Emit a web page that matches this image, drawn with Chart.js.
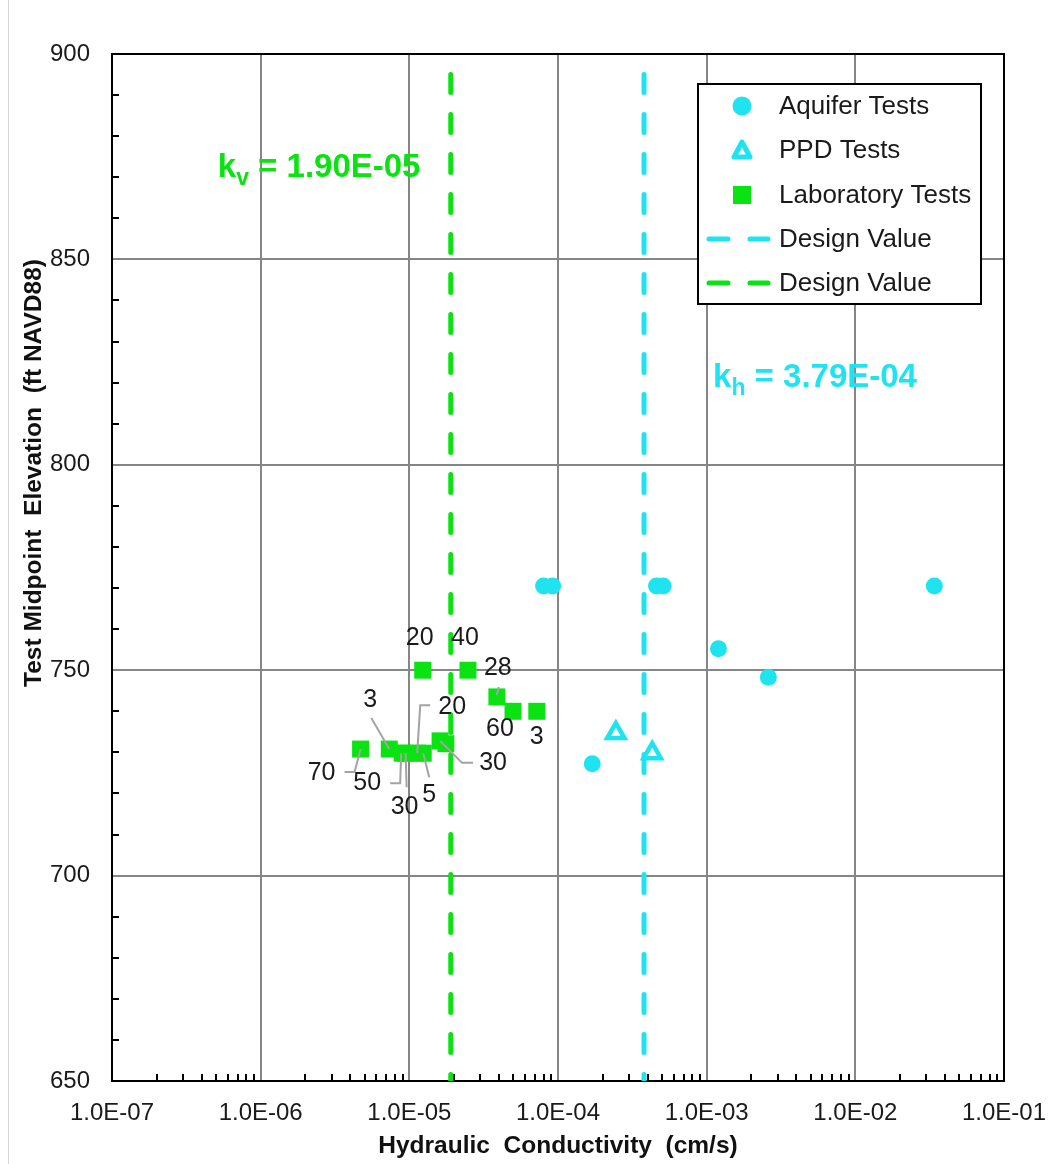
<!DOCTYPE html>
<html>
<head>
<meta charset="utf-8">
<script src="https://cdn.jsdelivr.net/npm/chart.js@4.4.1/dist/chart.umd.min.js"></script>
<style>
  html, body { margin:0; padding:0; background:#fff; }
</style>
</head>
<body>
<canvas id="kChart" width="1050" height="1164"></canvas>
<script>
// ---- data ----
const aquiferK    = [8.0e-5, 9.2e-5, 4.6e-4, 5.1e-4, 3.4e-2, 1.2e-3, 2.6e-3, 1.7e-4];
const aquiferElev = [770.5, 770.5, 770.5, 770.5, 770.5, 755.2, 748.3, 727.2];

const ppdK    = [2.45e-4, 4.3e-4];
const ppdElev = [734.7, 729.8];

const labK    = [1.23e-5, 2.48e-5, 3.88e-5, 4.98e-5, 7.2e-5, 4.7e-6, 7.33e-6, 8.95e-6, 9.44e-6, 1.13e-5, 1.24e-5, 1.61e-5, 1.76e-5];
const labElev = [750, 750, 743.5, 740, 740, 730.8, 730.8, 729.8, 729.8, 729.8, 729.8, 732.8, 732.1];
const labNotes = ['20', '40', '28', '60', '3', '70', '3', '50', '30', '20', '5', '30', ''];

const khDesign = 3.79e-4;
const kvDesign = 1.90e-5;
const designElev = [895, 650];

const xTickValues = [1e-7, 1e-6, 1e-5, 1e-4, 1e-3, 1e-2, 1e-1];
const xTickLabels = ['1.0E-07', '1.0E-06', '1.0E-05', '1.0E-04', '1.0E-03', '1.0E-02', '1.0E-01'];
const yTickValues = [650, 700, 750, 800, 850, 900];

// label placement for the lab notes: [textDx, textDy, leader points...] in px from the marker
const noteLayout = [
  [-3, -32, []],
  [-3, -32, []],
  [1, -29, [[2, -10], [0, -2]]],
  [-13, 18, []],
  [0, 26, []],
  [-39, 24, [[0, 0], [-6, 23], [-16, 23]]],
  [-19, -49, [[-18, -31], [0, 0]]],
  [-35, 30, [[-12, 30], [-2, 30], [-1, 0]]],
  [-1, 54, [[0, 0], [1, 34]]],
  [35, -46, [[13, -48], [3, -48], [0, 0]]],
  [6, 42, [[0, 0], [6, 24]]],
  [53, 22, [[0, 0], [22, 22], [33, 22]]],
  [0, 0, []]
];

const CYAN = '#1fe4f0';
const GREEN = '#0ae212';
const FONT = "'Liberation Sans', Arial, sans-serif";

function sci(v) {
  const [m, e] = v.toExponential(2).split('e');
  const n = Math.abs(parseInt(e, 10));
  return m + 'E' + (e[0] === '-' ? '-' : '+') + String(n).padStart(2, '0');
}

const pts = (xs, ys) => xs.map((v, i) => ({ x: v, y: ys[i] }));

// minor tick positions (2..9 of each decade, every 10 ft)
const xMinor = [];
xTickValues.slice(0, -1).forEach(d => { for (let m = 2; m <= 9; m++) xMinor.push(d * m); });
const yMinor = [];
for (let v = 650; v < 900; v += 10) if (v % 50) yMinor.push(v);

const overlay = {
  id: 'overlay',
  beforeDatasetsDraw(chart) {
    const { ctx, chartArea: a, scales: { x, y } } = chart;
    ctx.save();
    ctx.strokeStyle = '#000';
    ctx.lineWidth = 2;
    ctx.beginPath();
    xMinor.forEach(v => {
      const px = Math.round(x.getPixelForValue(v));
      ctx.moveTo(px, a.bottom); ctx.lineTo(px, a.bottom - 7);
    });
    yMinor.forEach(v => {
      const py = Math.round(y.getPixelForValue(v));
      ctx.moveTo(a.left, py); ctx.lineTo(a.left + 7, py);
    });
    ctx.stroke();
    ctx.strokeRect(a.left, a.top, a.right - a.left, a.bottom - a.top);
    // faint outer frame line on the left
    ctx.strokeStyle = '#d9d9d9';
    ctx.lineWidth = 1;
    ctx.beginPath(); ctx.moveTo(8.5, 0); ctx.lineTo(8.5, chart.height); ctx.stroke();
    ctx.restore();
  },
  afterDatasetsDraw(chart) {
    const { ctx, scales: { x, y } } = chart;
    ctx.save();

    // lab notes with leaders
    ctx.strokeStyle = '#a3a3a3';
    ctx.lineWidth = 2;
    ctx.fillStyle = '#1a1a1a';
    ctx.font = '25px ' + FONT;
    ctx.textAlign = 'center';
    ctx.textBaseline = 'middle';
    labK.forEach((k, i) => {
      const px = x.getPixelForValue(k), py = y.getPixelForValue(labElev[i]);
      const [dx, dy, lead] = noteLayout[i];
      if (lead.length) {
        ctx.beginPath();
        lead.forEach(([lx, ly], j) => j ? ctx.lineTo(px + lx, py + ly) : ctx.moveTo(px + lx, py + ly));
        ctx.stroke();
      }
      if (labNotes[i]) ctx.fillText(labNotes[i], px + dx, py + dy);
    });

    // design value labels
    const kLabel = (sub, val, color, px, py) => {
      ctx.fillStyle = color;
      ctx.textAlign = 'left';
      ctx.textBaseline = 'alphabetic';
      ctx.font = 'bold 33px ' + FONT;
      ctx.fillText('k', px, py);
      let cx = px + ctx.measureText('k').width;
      ctx.font = 'bold 23px ' + FONT;
      ctx.fillText(sub, cx, py + 8);
      cx += ctx.measureText(sub).width;
      ctx.font = 'bold 33px ' + FONT;
      ctx.fillText(' = ' + sci(val), cx, py);
    };
    kLabel('v', kvDesign, GREEN, x.getPixelForValue(kvDesign) - 233, y.getPixelForValue(870));
    kLabel('h', khDesign, CYAN, x.getPixelForValue(khDesign) + 69, y.getPixelForValue(819));

    // legend
    const L = { left: 698, top: 84, right: 981, bottom: 304 };
    ctx.fillStyle = '#fff';
    ctx.fillRect(L.left, L.top, L.right - L.left, L.bottom - L.top);
    ctx.strokeStyle = '#000';
    ctx.lineWidth = 2;
    ctx.strokeRect(L.left, L.top, L.right - L.left, L.bottom - L.top);
    const rows = [106, 150, 195, 239, 283];
    const mx = 742;
    chart.data.datasets.forEach((ds, i) => {
      const ry = rows[i];
      ctx.fillStyle = ds.borderColor;
      ctx.strokeStyle = ds.borderColor;
      if (ds.pointStyle === 'circle') {
        ctx.beginPath(); ctx.arc(mx, ry, 9.5, 0, Math.PI * 2); ctx.fill();
      } else if (ds.pointStyle === 'triangle') {
        ctx.lineWidth = 5; ctx.lineJoin = 'round';
        ctx.beginPath();
        ctx.moveTo(mx, ry - 8); ctx.lineTo(mx + 8, ry + 7); ctx.lineTo(mx - 8, ry + 7); ctx.closePath();
        ctx.fillStyle = '#fff'; ctx.fill(); ctx.stroke();
      } else if (ds.pointStyle === 'rect') {
        ctx.fillRect(mx - 9, ry - 9, 18, 18);
      } else {
        ctx.lineWidth = 5; ctx.lineCap = 'round';
        ctx.beginPath();
        ctx.moveTo(709, ry); ctx.lineTo(728, ry);
        ctx.moveTo(750, ry); ctx.lineTo(768, ry);
        ctx.stroke();
        ctx.lineCap = 'butt';
      }
      ctx.fillStyle = '#1a1a1a';
      ctx.font = '26px ' + FONT;
      ctx.textAlign = 'left';
      ctx.textBaseline = 'middle';
      ctx.fillText(ds.label, 779, ry + 1);
    });
    ctx.restore();
  },
  afterDraw(chart) {
    const { ctx, chartArea: a } = chart;
    ctx.save();
    ctx.fillStyle = '#111';
    ctx.font = 'bold 24.5px ' + FONT;
    ctx.textAlign = 'center';
    ctx.textBaseline = 'middle';
    ctx.fillText('Hydraulic  Conductivity  (cm/s)', (a.left + a.right) / 2, 1146);
    ctx.translate(34, 473);
    ctx.rotate(-Math.PI / 2);
    ctx.fillText('Test Midpoint  Elevation  (ft NAVD88)', 0, 0);
    ctx.restore();
  }
};

const tickFont = { family: FONT, size: 24 };

new Chart(document.getElementById('kChart'), {
  type: 'scatter',
  data: {
    datasets: [
      { label: 'Aquifer Tests', data: pts(aquiferK, aquiferElev), pointStyle: 'circle',
        pointRadius: 8.5, backgroundColor: CYAN, borderColor: CYAN, borderWidth: 0, order: 1 },
      { label: 'PPD Tests', data: pts(ppdK, ppdElev), pointStyle: 'triangle',
        pointRadius: 10, backgroundColor: '#fff', borderColor: CYAN, borderWidth: 4.5, order: 2 },
      { label: 'Laboratory Tests', data: pts(labK, labElev), pointStyle: 'rect',
        pointRadius: 12, backgroundColor: GREEN, borderColor: GREEN, borderWidth: 0, order: 3 },
      { label: 'Design Value', data: designElev.map(e => ({ x: khDesign, y: e })), showLine: true,
        pointRadius: 0, borderColor: CYAN, borderWidth: 5, borderDash: [18, 22], borderCapStyle: 'round', order: 4 },
      { label: 'Design Value', data: designElev.map(e => ({ x: kvDesign, y: e })), showLine: true,
        pointRadius: 0, borderColor: GREEN, borderWidth: 5, borderDash: [18, 22], borderCapStyle: 'round', order: 5 }
    ]
  },
  options: {
    responsive: false,
    animation: false,
    events: [],
    layout: { padding: { left: 0, top: 54, right: 46, bottom: 0 } },
    plugins: { legend: { display: false }, tooltip: { enabled: false } },
    scales: {
      x: {
        type: 'logarithmic', min: 1e-7, max: 1e-1,
        afterBuildTicks: s => { s.ticks = xTickValues.map(v => ({ value: v })); },
        afterFit: s => { s.height = 83; s.paddingLeft = 0; s.paddingRight = 0; },
        grid: { color: '#868686', lineWidth: 2, drawTicks: false },
        border: { display: false },
        ticks: { autoSkip: false, maxRotation: 0, padding: 18, color: '#1a1a1a', font: tickFont,
          callback: (v, i) => xTickLabels[i] }
      },
      y: {
        type: 'linear', min: 650, max: 900,
        afterBuildTicks: s => { s.ticks = yTickValues.map(v => ({ value: v })); },
        afterFit: s => { s.width = 112; s.paddingTop = 0; s.paddingBottom = 0; },
        grid: { color: '#868686', lineWidth: 2, drawTicks: false },
        border: { display: false },
        ticks: { padding: 22, color: '#1a1a1a', font: tickFont }
      }
    }
  },
  plugins: [overlay]
});
</script>
</body>
</html>
